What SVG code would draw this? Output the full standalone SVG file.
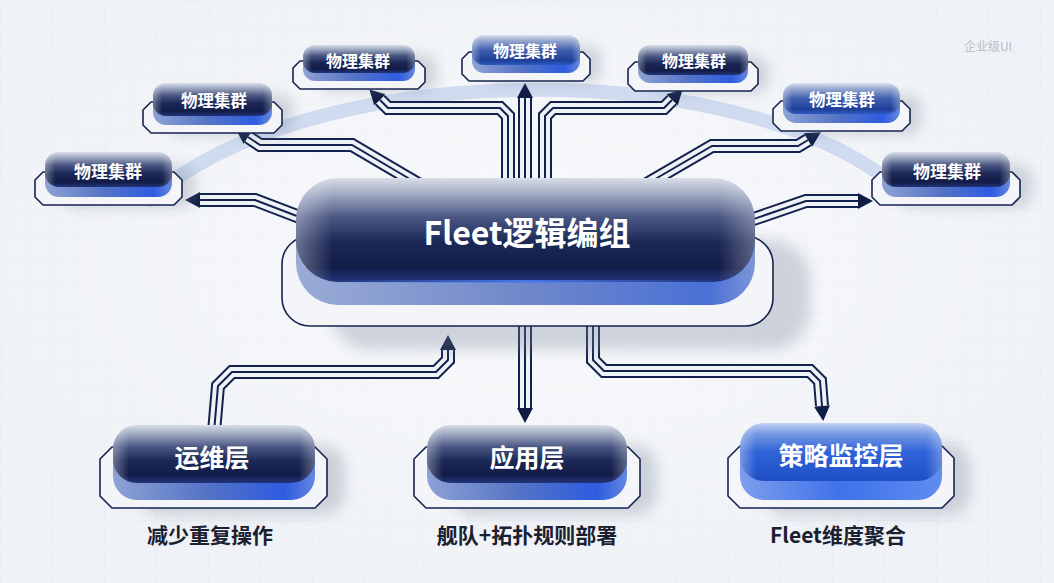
<svg xmlns="http://www.w3.org/2000/svg" width="1054" height="583" viewBox="0 0 1054 583">
<defs>
  <pattern id="grid" width="26" height="26" patternUnits="userSpaceOnUse">
    <path d="M26 0H0V26" fill="none" stroke="#e2e6ec" stroke-width="1"/>
  </pattern>
  <radialGradient id="bgGlow" cx="0.5" cy="0.45" r="0.6">
    <stop offset="0" stop-color="#ffffff" stop-opacity="0.6"/>
    <stop offset="1" stop-color="#ffffff" stop-opacity="0"/>
  </radialGradient>
  <linearGradient id="faceDark" x1="0" y1="0" x2="0" y2="1">
    <stop offset="0" stop-color="#d9dee8"/>
    <stop offset="0.14" stop-color="#a5afc6"/>
    <stop offset="0.38" stop-color="#4a5682"/>
    <stop offset="0.62" stop-color="#1b2756"/>
    <stop offset="0.86" stop-color="#121c48"/>
    <stop offset="1" stop-color="#22357a"/>
  </linearGradient>
  <linearGradient id="faceBlue" x1="0" y1="0" x2="0" y2="1">
    <stop offset="0" stop-color="#dbe1ee"/>
    <stop offset="0.18" stop-color="#9aaad0"/>
    <stop offset="0.5" stop-color="#3f5fae"/>
    <stop offset="0.85" stop-color="#1f3f98"/>
    <stop offset="1" stop-color="#2d5ac4"/>
  </linearGradient>
  <linearGradient id="faceBright" x1="0" y1="0" x2="0" y2="1">
    <stop offset="0" stop-color="#c3d2f3"/>
    <stop offset="0.2" stop-color="#7397e4"/>
    <stop offset="0.5" stop-color="#2f62d8"/>
    <stop offset="1" stop-color="#1e4fc6"/>
  </linearGradient>
  <linearGradient id="baseG" x1="0" y1="0" x2="1" y2="0">
    <stop offset="0" stop-color="#8da2d4"/>
    <stop offset="0.45" stop-color="#5674c6"/>
    <stop offset="0.85" stop-color="#2d5ce0"/>
    <stop offset="1" stop-color="#6487df"/>
  </linearGradient>
  <linearGradient id="baseC" x1="0" y1="0" x2="1" y2="0">
    <stop offset="0" stop-color="#9aabd6"/>
    <stop offset="0.5" stop-color="#6f88c9"/>
    <stop offset="0.9" stop-color="#4a70d6"/>
    <stop offset="1" stop-color="#7d97d8"/>
  </linearGradient>
  <linearGradient id="baseBright" x1="0" y1="0" x2="1" y2="0">
    <stop offset="0" stop-color="#7d9ded"/>
    <stop offset="0.5" stop-color="#3f72ea"/>
    <stop offset="1" stop-color="#5f8cf0"/>
  </linearGradient>
  <linearGradient id="edgeG" x1="0" y1="0" x2="1" y2="0">
    <stop offset="0" stop-color="#ffffff" stop-opacity="0.35"/>
    <stop offset="0.08" stop-color="#ffffff" stop-opacity="0"/>
    <stop offset="0.92" stop-color="#ffffff" stop-opacity="0"/>
    <stop offset="1" stop-color="#ffffff" stop-opacity="0.3"/>
  </linearGradient>
  <linearGradient id="glowLine" x1="0" y1="0" x2="1" y2="0">
    <stop offset="0" stop-color="#4d7ff0" stop-opacity="0"/>
    <stop offset="0.5" stop-color="#4d7ff0" stop-opacity="0.9"/>
    <stop offset="1" stop-color="#4d7ff0" stop-opacity="0"/>
  </linearGradient>
  <filter id="blur" x="-30%" y="-50%" width="160%" height="200%">
    <feGaussianBlur stdDeviation="7"/>
  </filter>
  <marker id="ah" viewBox="0 -9 16 18" refX="0" refY="0" markerWidth="16" markerHeight="18" orient="auto" markerUnits="userSpaceOnUse">
    <path d="M0,-8 L15,0 L0,8 Z" fill="#0f1c45"/>
  </marker>
  <style>
    .o { fill:none; stroke:#13214f; stroke-width:14; stroke-linejoin:miter; }
    .i { fill:none; stroke:#eef1f5; stroke-width:10; stroke-linejoin:miter; }
    .c { fill:none; stroke:#13214f; stroke-width:2; stroke-linejoin:miter; }
    .arr { marker-end:url(#ah); }
    .plate { fill:#f3f5f9; stroke:#16244f; stroke-width:1.6; stroke-linejoin:round; }
    .shadow { fill:#7d879c; opacity:0.32; filter:url(#blur); }
    .edge { fill:url(#edgeG); }
    .lbl { font-family:"Noto Sans CJK SC","Noto Sans",sans-serif; font-weight:700; fill:#ffffff; text-anchor:middle; dominant-baseline:central; }
    .sub { font-family:"Noto Sans CJK SC","Noto Sans",sans-serif; font-weight:700; fill:#1b2030; text-anchor:middle; dominant-baseline:central; font-size:21px; }
  </style>
</defs>

<rect width="1054" height="583" fill="#eff2f6"/>
<rect width="1054" height="583" fill="url(#grid)" opacity="0.7"/>
<rect width="1054" height="583" fill="url(#bgGlow)"/>
<text x="988" y="51" font-family="Noto Sans CJK SC, Noto Sans, sans-serif" font-size="12" fill="#b6bcc6" text-anchor="middle">企业级UI</text>

<path d="M150 200 C300 60 740 50 900 190" fill="none" stroke="#c9d6ee" stroke-width="14" stroke-linecap="round" opacity="0.85"/>

<g id="connectors">
  <g id="c-a"><path class="o" d="M310 221 L255 200 L200 200"/><path class="i" d="M310 221 L255 200 L200 200"/><path class="c arr" d="M310 221 L255 200 L200 200"/></g>
  <g id="c-b"><path class="o" d="M420 185 L352 145 L260 145 L248 137"/><path class="i" d="M420 185 L352 145 L260 145 L248 137"/><path class="c arr" d="M420 185 L352 145 L260 145 L248 137"/></g>
  <g id="c-c"><path class="o" d="M508 185 L508 116 L500 108 L388 108 L380 100"/><path class="i" d="M508 185 L508 116 L500 108 L388 108 L380 100"/><path class="c arr" d="M508 185 L508 116 L500 108 L388 108 L380 100"/></g>
  <g id="c-d"><path class="o" d="M525 185 L525 98"/><path class="i" d="M525 185 L525 98"/><path class="c arr" d="M525 185 L525 98"/></g>
  <g id="c-e"><path class="o" d="M545 185 L545 116 L553 108 L664 108 L672 100"/><path class="i" d="M545 185 L545 116 L553 108 L664 108 L672 100"/><path class="c arr" d="M545 185 L545 116 L553 108 L664 108 L672 100"/></g>
  <g id="c-f"><path class="o" d="M645 185 L712 146 L798 146 L808 140"/><path class="i" d="M645 185 L712 146 L798 146 L808 140"/><path class="c arr" d="M645 185 L712 146 L798 146 L808 140"/></g>
  <g id="c-g"><path class="o" d="M745 222 L806 201 L858 201"/><path class="i" d="M745 222 L806 201 L858 201"/><path class="c arr" d="M745 222 L806 201 L858 201"/></g>
  <g id="c-h"><path class="o" d="M214 432 L218 386 L232 372 L436 372 L448 360 L448 350"/><path class="i" d="M214 432 L218 386 L232 372 L436 372 L448 360 L448 350"/><path class="c arr" d="M214 432 L218 386 L232 372 L436 372 L448 360 L448 350"/></g>
  <g id="c-i"><path class="o" d="M525 318 L525 408"/><path class="i" d="M525 318 L525 408"/><path class="c arr" d="M525 318 L525 408"/></g>
  <g id="c-j"><path class="o" d="M593 318 L593 360 L604 371 L810 371 L820 381 L822 406"/><path class="i" d="M593 318 L593 360 L604 371 L810 371 L820 381 L822 406"/><path class="c arr" d="M593 318 L593 360 L604 371 L810 371 L820 381 L822 406"/></g>
</g>

<g id="fleet">
  <rect class="shadow" x="330" y="240" width="480" height="110" rx="40"/>
  <rect class="plate" x="282" y="236" width="491" height="90" rx="28"/>
  <rect x="296" y="198" width="459" height="107" rx="42" fill="url(#baseC)"/>
  <rect x="296" y="178" width="459" height="104" rx="42" fill="url(#faceDark)"/>
  <rect x="296" y="178" width="459" height="104" rx="42" class="edge"/>
  <rect x="330" y="280" width="390" height="3" fill="url(#glowLine)"/>
  <text class="lbl" x="527" y="231" font-size="32">Fleet逻辑编组</text>
</g>

<g id="cluster-1">
  <rect class="shadow" x="60" y="165" width="135" height="42" rx="14"/>
  <polygon class="plate" points="43,172 174,172 182,180 182,197 174,205 43,205 35,197 35,180"/>
  <rect x="45" y="161" width="127" height="36" rx="14" fill="url(#baseG)"/>
  <rect x="45" y="152" width="127" height="35" rx="14" fill="url(#faceDark)"/>
  <rect x="45" y="152" width="127" height="35" rx="14" class="edge"/>
  <text class="lbl" x="108" y="170" font-size="17">物理集群</text>
</g>
<g id="cluster-2">
  <rect class="shadow" x="168" y="95" width="125" height="40" rx="13"/>
  <polygon class="plate" points="151,102 274,102 282,110 282,125 274,133 151,133 143,125 143,110"/>
  <rect x="153" y="91" width="119" height="34" rx="13" fill="url(#baseG)"/>
  <rect x="153" y="83" width="119" height="33" rx="13" fill="url(#faceDark)"/>
  <rect x="153" y="83" width="119" height="33" rx="13" class="edge"/>
  <text class="lbl" x="214" y="100" font-size="16.5">物理集群</text>
</g>
<g id="cluster-3">
  <rect class="shadow" x="318" y="55" width="118" height="36" rx="12"/>
  <polygon class="plate" points="300,61 418,61 425,68 425,82 418,89 300,89 293,82 293,68"/>
  <rect x="303" y="52" width="112" height="29" rx="12" fill="url(#baseG)"/>
  <rect x="303" y="45" width="112" height="28" rx="12" fill="url(#faceDark)"/>
  <rect x="303" y="45" width="112" height="28" rx="12" class="edge"/>
  <text class="lbl" x="358" y="60" font-size="16">物理集群</text>
</g>
<g id="cluster-4">
  <rect class="shadow" x="486" y="46" width="115" height="37" rx="12"/>
  <polygon class="plate" points="469,52 583,52 590,59 590,74 583,81 469,81 462,74 462,59"/>
  <rect x="472" y="43" width="108" height="30" rx="12" fill="url(#baseG)"/>
  <rect x="472" y="35" width="108" height="30" rx="12" fill="url(#faceBlue)"/>
  <rect x="472" y="35" width="108" height="30" rx="12" class="edge"/>
  <text class="lbl" x="525" y="50" font-size="16">物理集群</text>
</g>
<g id="cluster-5">
  <rect class="shadow" x="652" y="56" width="116" height="37" rx="12"/>
  <polygon class="plate" points="635,62 751,62 758,69 758,84 751,91 635,91 628,84 628,69"/>
  <rect x="638" y="53" width="110" height="30" rx="12" fill="url(#baseG)"/>
  <rect x="638" y="45" width="110" height="30" rx="12" fill="url(#faceDark)"/>
  <rect x="638" y="45" width="110" height="30" rx="12" class="edge"/>
  <text class="lbl" x="694" y="60" font-size="16">物理集群</text>
</g>
<g id="cluster-6">
  <rect class="shadow" x="798" y="95" width="123" height="39" rx="13"/>
  <polygon class="plate" points="781,101 902,101 910,109 910,123 902,131 781,131 773,123 773,109"/>
  <rect x="783" y="91" width="117" height="32" rx="13" fill="url(#baseG)"/>
  <rect x="783" y="83" width="117" height="31" rx="13" fill="url(#faceBlue)"/>
  <rect x="783" y="83" width="117" height="31" rx="13" class="edge"/>
  <text class="lbl" x="842" y="99" font-size="16.5">物理集群</text>
</g>
<g id="cluster-7">
  <rect class="shadow" x="897" y="165" width="135" height="42" rx="14"/>
  <polygon class="plate" points="880,172 1012,172 1020,180 1020,197 1012,205 880,205 872,197 872,180"/>
  <rect x="882" y="161" width="128" height="36" rx="14" fill="url(#baseG)"/>
  <rect x="882" y="152" width="128" height="35" rx="14" fill="url(#faceDark)"/>
  <rect x="882" y="152" width="128" height="35" rx="14" class="edge"/>
  <text class="lbl" x="947" y="170" font-size="17">物理集群</text>
</g>

<g id="ops">
  <rect class="shadow" x="140" y="445" width="205" height="70" rx="22"/>
  <polygon class="plate" points="112,447 315,447 327,459 327,496 315,508 112,508 100,496 100,459"/>
  <rect x="113" y="440" width="202" height="60" rx="24" fill="url(#baseG)"/>
  <rect x="113" y="425" width="202" height="58" rx="24" fill="url(#faceDark)"/>
  <rect x="113" y="425" width="202" height="58" rx="24" class="edge"/>
  <text class="lbl" x="212" y="456" font-size="25">运维层</text>
  <text class="sub" x="210" y="534">减少重复操作</text>
</g>
<g id="app">
  <rect class="shadow" x="452" y="445" width="205" height="70" rx="22"/>
  <polygon class="plate" points="426,447 628,447 640,459 640,496 628,508 426,508 414,496 414,459"/>
  <rect x="427" y="440" width="200" height="60" rx="24" fill="url(#baseG)"/>
  <rect x="427" y="425" width="200" height="58" rx="24" fill="url(#faceDark)"/>
  <rect x="427" y="425" width="200" height="58" rx="24" class="edge"/>
  <text class="lbl" x="527" y="456" font-size="25">应用层</text>
  <text class="sub" x="527" y="534">舰队+拓扑规则部署</text>
</g>
<g id="policy">
  <rect class="shadow" x="765" y="443" width="205" height="72" rx="22"/>
  <polygon class="plate" points="740,446 942,446 954,458 954,496 942,508 740,508 728,496 728,458"/>
  <rect x="740" y="438" width="202" height="62" rx="24" fill="url(#baseBright)"/>
  <rect x="740" y="423" width="202" height="58" rx="24" fill="url(#faceBright)"/>
  <rect x="740" y="423" width="202" height="58" rx="24" class="edge"/>
  <text class="lbl" x="841" y="454" font-size="25">策略监控层</text>
  <text class="sub" x="838" y="534">Fleet维度聚合</text>
</g>
</svg>
